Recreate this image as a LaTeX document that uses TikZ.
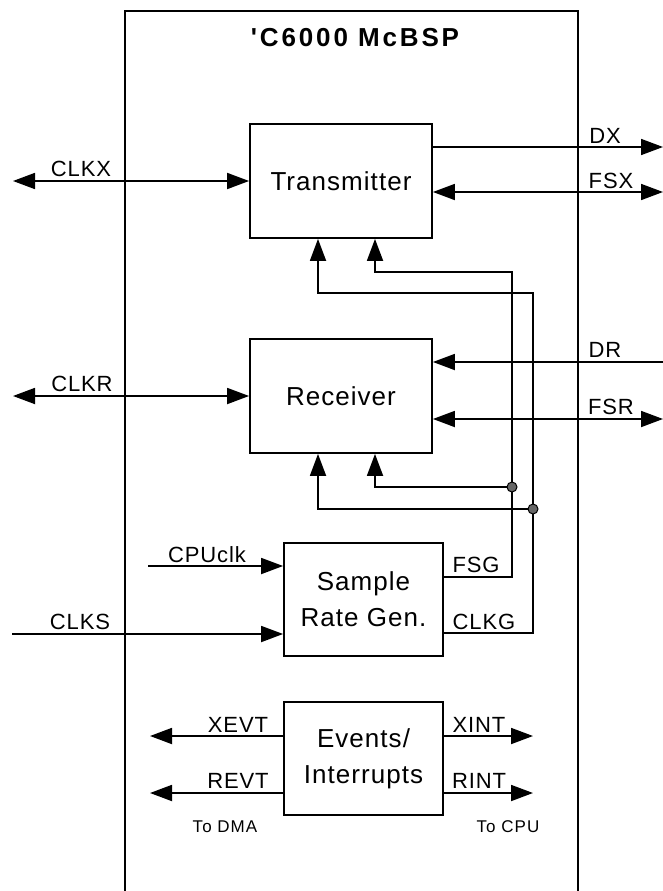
\documentclass[tikz,border=0pt]{standalone}
\usepackage{fontspec}
\setmainfont{Liberation Sans}
\newfontfamily\labf[LetterSpace=4]{Liberation Sans}
\newfontfamily\smallf[LetterSpace=6]{Liberation Sans}
\newfontfamily\boxf[LetterSpace=4]{Liberation Sans}
\newfontfamily\titf[LetterSpace=11]{Liberation Sans}
\usetikzlibrary{arrows.meta}
\tikzset{
  blk/.style={draw, line width=1.8pt, inner sep=0pt, align=center,
    font=\boxf\fontsize{26}{36}\selectfont},
  sig/.style={line width=1.8pt, -{Triangle[length=22pt,width=16pt]}},
  sigb/.style={line width=1.8pt, {Triangle[length=22pt,width=16pt]}-{Triangle[length=22pt,width=16pt]}},
  lab/.style={anchor=base, inner sep=0pt, font=\labf\fontsize{22}{24}\selectfont},
  small/.style={anchor=base, inner sep=0pt, font=\smallf\fontsize{17}{19}\selectfont},
  jdot/.style={circle, draw, fill=black!60, line width=1pt, inner sep=0pt, minimum size=10pt},
}
\begin{document}
\begin{tikzpicture}[x=1pt,y=-1pt]
\useasboundingbox (0,0) rectangle (663,891);
% outer frame
\draw[line width=1.8pt] (125,891) -- (125,11) -- (578,11) -- (578,891);
\node[anchor=base, inner sep=0pt, font=\titf\bfseries\fontsize{26}{28}\selectfont] (title) at (355,47) {'C6000 McBSP};

% blocks
\node[blk, minimum width=182pt, minimum height=114pt] (tx) at (341,181) {Transmitter};
\node[blk, minimum width=182pt, minimum height=114pt] (rx) at (341,396) {Receiver};
\node[blk, minimum width=159pt, minimum height=113pt] (srg) at (363.5,599.5) {Sample\\Rate Gen.};
\node[blk, minimum width=159pt, minimum height=113pt] (ev) at (363.5,758.5) {Events/\\Interrupts};

% named end points and routing coordinates
\coordinate (clkx) at (13,181);
\coordinate (clkr) at (13,396);
\coordinate (dx) at (663,147);
\coordinate (fsx) at (663,192);
\coordinate (dr) at (663,362);
\coordinate (fsr) at (663,419);
\coordinate (cpu) at (148,566);
\coordinate (clks) at (12,634);
\coordinate (xe) at (150,736);
\coordinate (re) at (150,793);
\coordinate (xi) at (533,736);
\coordinate (ri) at (533,793);
\coordinate (xa) at (318,0);
\coordinate (xb) at (375,0);
\coordinate (xf) at (512,0);
\coordinate (xc) at (533,0);
\coordinate (yf) at (0,577);
\coordinate (yc) at (0,633);
\coordinate (ytf) at (0,272);
\coordinate (ytc) at (0,293);
\coordinate (yrf) at (0,487);
\coordinate (yrc) at (0,509);

% transmitter / receiver pins
\draw[sigb] (clkx) -- (tx.west);
\draw[sig] (tx.east |- dx) -- (dx);
\draw[sigb] (tx.east |- fsx) -- (fsx);
\draw[sigb] (clkr) -- (rx.west);
\draw[sig] (dr) -- (rx.east |- dr);
\draw[sigb] (rx.east |- fsr) -- (fsr);

% sample rate generator feedback
\draw[sig] (srg.east |- yf) -| (xf |- ytf) -| (tx.south -| xb);
\draw[sig] (xf |- yrf) -| (rx.south -| xb);
\draw[sig] (srg.east |- yc) -| (xc |- ytc) -| (tx.south -| xa);
\draw[sig] (xc |- yrc) -| (rx.south -| xa);
\node[jdot] (jf) at (xf |- yrf) {};
\node[jdot] (jc) at (xc |- yrc) {};

% sample rate generator inputs
\draw[sig] (cpu) -- (srg.west |- cpu);
\draw[sig] (clks) -- (srg.west |- clks);

% events / interrupts
\draw[sig] (ev.west |- xe) -- (xe);
\draw[sig] (ev.west |- re) -- (re);
\draw[sig] (ev.east |- xi) -- (xi);
\draw[sig] (ev.east |- ri) -- (ri);

% labels
\node[lab] (lclkx) at (81,176) {CLKX};
\node[lab] (lclkr) at (82,391) {CLKR};
\node[lab] (ldx) at (605,143) {DX};
\node[lab] (lfsx) at (611,188) {FSX};
\node[lab] (ldr) at (605,357) {DR};
\node[lab] (lfsr) at (611,414) {FSR};
\node[lab] (lcpu) at (207,562) {CPUclk};
\node[lab] (lclks) at (80,629) {CLKS};
\node[lab] (lfsg) at (476,572) {FSG};
\node[lab] (lclkg) at (484,629) {CLKG};
\node[lab] (lxevt) at (238,732) {XEVT};
\node[lab] (lrevt) at (238,788) {REVT};
\node[lab] (lxint) at (479,732) {XINT};
\node[lab] (lrint) at (479,788) {RINT};
\node[small] (ldma) at (225,832) {To DMA};
\node[small] (lcpuo) at (508,832) {To CPU};
\end{tikzpicture}
\end{document}
